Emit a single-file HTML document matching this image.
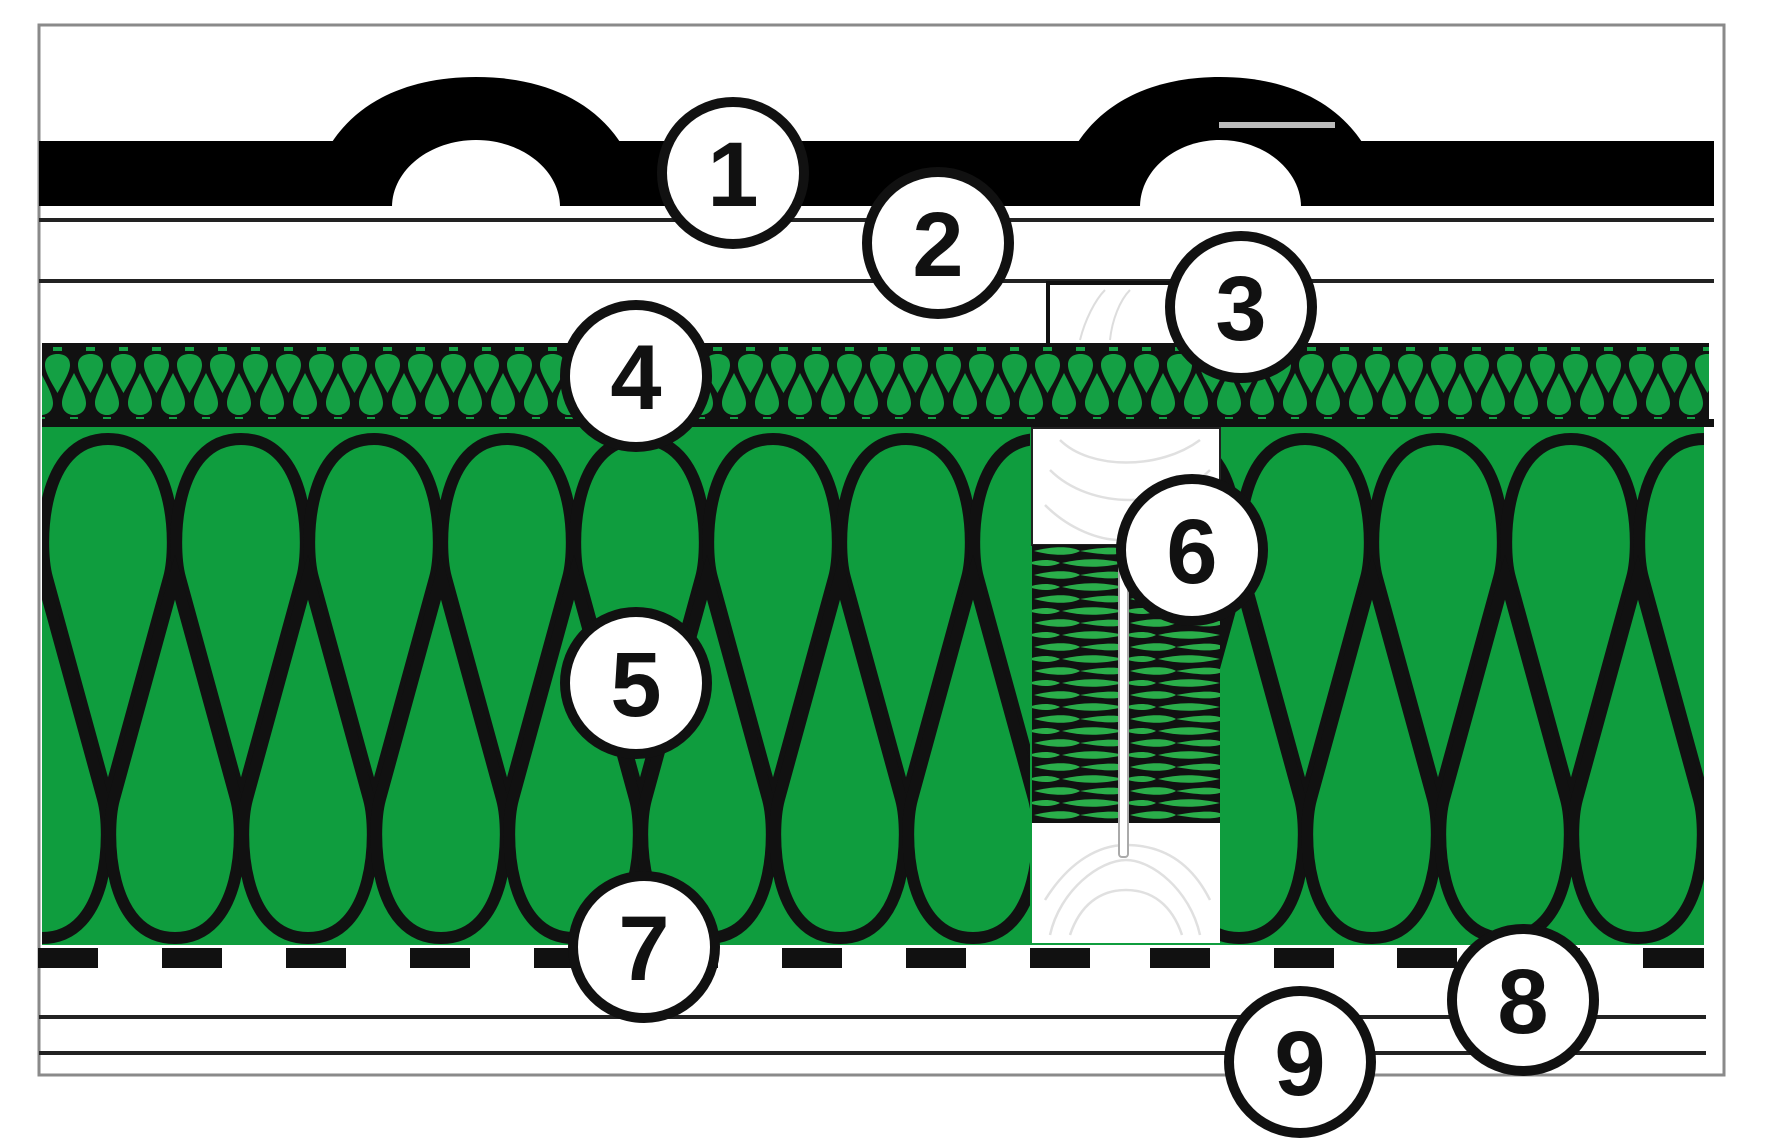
<!DOCTYPE html>
<html><head><meta charset="utf-8"><style>
html,body{margin:0;padding:0;background:#fff;}
svg{display:block;}
text{font-family:"Liberation Sans",Arial,sans-serif;font-weight:bold;}
</style></head><body>
<svg width="1772" height="1147" viewBox="0 0 1772 1147" xmlns="http://www.w3.org/2000/svg">
<defs>
<pattern id="lat" x="8" y="343" width="33" height="82" patternUnits="userSpaceOnUse">
  <rect width="33" height="82" fill="#111"/>
  <path d="M16.5,50 C12,42 4,30 4,22 C4,14 10,11 16.5,11 C23,11 29,14 29,22 C29,30 21,42 16.5,50Z" fill="#14a044"/>
  <path d="M0,30 C5,40 12,52 12,60 C12,68 6,72 0,72 C-6,72 -12,68 -12,60 C-12,52 -5,40 0,30Z" fill="#14a044"/>
  <path d="M33,30 C38,40 45,52 45,60 C45,68 39,72 33,72 C27,72 21,68 21,60 C21,52 28,40 33,30Z" fill="#14a044"/>
  <rect x="12" y="4" width="9" height="4" fill="#14a044"/><rect x="-4" y="74" width="8" height="4" fill="#14a044"/><rect x="29" y="74" width="8" height="4" fill="#14a044"/>
</pattern>
<pattern id="mid" x="1032" y="545" width="96" height="24" patternUnits="userSpaceOnUse">
  <rect width="96" height="24" fill="#111"/>
  <path d="M2,6 C20,1 40,1 48,6 C40,11 20,11 2,6Z" fill="#2aae4a"/>
  <path d="M48,6 C76,1 90,2 96,6 C90,10 76,11 48,6Z" fill="#2aae4a"/>
  <path d="M30,18 C50,13 70,13 92,18 C70,23 50,23 30,18Z" fill="#2aae4a"/>
  <path d="M-4,18 C8,14 20,14 28,18 C20,22 8,22 -4,18Z" fill="#2aae4a"/>
</pattern>
<clipPath id="cl"><rect x="42" y="428" width="988" height="517"/></clipPath>
<clipPath id="cr"><rect x="1220" y="428" width="484" height="517"/></clipPath>
<path id="tl" d="M0,800 L-61,578 C-70,545 -68,439 0,439 C68,439 70,545 61,578 Z"/>
</defs>

<rect x="39" y="25" width="1685" height="1050" fill="#fff" stroke="#8a8a8a" stroke-width="3"/>

<!-- tile band -->
<rect x="39" y="141" width="1675" height="65" fill="#000"/>
<path d="M332,142 C360,100 410,77 476,77 C542,77 592,100 620,142 Z" fill="#000"/>
<path d="M1078,142 C1106,100 1156,77 1220,77 C1284,77 1334,100 1362,142 Z" fill="#000"/>
<path d="M392,207 C392,170 430,140 476,140 C522,140 560,170 560,207 Z" fill="#fff"/>
<path d="M1140,207 C1140,170 1176,140 1220,140 C1264,140 1301,170 1301,207 Z" fill="#fff"/>
<rect x="1219" y="122" width="116" height="6" fill="#bbb"/>

<rect x="39" y="218" width="1675" height="4" fill="#222"/>
<rect x="39" y="279" width="1675" height="4" fill="#222"/>

<!-- batten -->
<rect x="1048" y="283" width="130" height="62" fill="#fff" stroke="#111" stroke-width="4"/>
<g fill="none" stroke="#ddd" stroke-width="2"><path d="M1080,340 C1085,320 1095,300 1105,290"/><path d="M1110,340 C1112,320 1120,300 1130,290"/></g>

<!-- lattice layer -->
<rect x="42" y="343" width="1667" height="82" fill="url(#lat)"/>
<rect x="42" y="419" width="1672" height="8" fill="#111"/>

<!-- main insulation -->
<rect x="42" y="427" width="1662" height="518" fill="#0f9d3e"/>
<g clip-path="url(#cl)" fill="none" stroke="#111" stroke-width="12">
  <use href="#tl" x="108"/><use href="#tl" x="241"/><use href="#tl" x="374"/><use href="#tl" x="507"/><use href="#tl" x="640"/><use href="#tl" x="773"/><use href="#tl" x="906"/><use href="#tl" x="1039"/>
  <g transform="translate(0,1377) scale(1,-1)">
  <use href="#tl" x="42"/><use href="#tl" x="175"/><use href="#tl" x="308"/><use href="#tl" x="441"/><use href="#tl" x="574"/><use href="#tl" x="707"/><use href="#tl" x="840"/><use href="#tl" x="973"/>
  </g>
</g>
<g clip-path="url(#cr)" fill="none" stroke="#111" stroke-width="12">
  <use href="#tl" x="1172"/><use href="#tl" x="1305"/><use href="#tl" x="1438"/><use href="#tl" x="1571"/><use href="#tl" x="1704"/>
  <g transform="translate(0,1377) scale(1,-1)">
  <use href="#tl" x="1239"/><use href="#tl" x="1372"/><use href="#tl" x="1505"/><use href="#tl" x="1638"/>
  </g>
</g>

<!-- rafter -->
<rect x="1032" y="428" width="188" height="117" fill="#fff" stroke="#222" stroke-width="2"/>
<rect x="1032" y="545" width="188" height="278" fill="url(#mid)"/>
<rect x="1032" y="823" width="188" height="120" fill="#fff"/>
<g fill="none" stroke="#e0e0e0" stroke-width="2.5">
  <path d="M1060,440 C1090,470 1160,470 1200,440"/><path d="M1050,470 C1090,510 1170,510 1210,470"/><path d="M1045,505 C1070,530 1100,540 1120,540"/>
  <path d="M1050,935 C1060,890 1100,860 1126,860 C1152,860 1190,890 1200,935"/><path d="M1070,935 C1080,905 1100,890 1126,890 C1152,890 1172,905 1182,935"/><path d="M1045,900 C1070,860 1100,845 1126,845 C1160,845 1190,860 1210,900"/>
</g>
<rect x="1119" y="545" width="9" height="312" rx="3" fill="#fff" stroke="#aaa" stroke-width="2"/>

<!-- dashes -->
<g fill="#111">
<rect x="38" y="948" width="60" height="20"/><rect x="162" y="948" width="60" height="20"/><rect x="286" y="948" width="60" height="20"/><rect x="410" y="948" width="60" height="20"/><rect x="534" y="948" width="60" height="20"/><rect x="658" y="948" width="60" height="20"/><rect x="782" y="948" width="60" height="20"/><rect x="906" y="948" width="60" height="20"/><rect x="1030" y="948" width="60" height="20"/><rect x="1150" y="948" width="60" height="20"/><rect x="1274" y="948" width="60" height="20"/><rect x="1397" y="948" width="60" height="20"/><rect x="1520" y="948" width="60" height="20"/><rect x="1643" y="948" width="61" height="20"/>
</g>
<rect x="39" y="1015" width="1667" height="4" fill="#222"/>
<rect x="39" y="1051" width="1667" height="4" fill="#222"/>

<!-- labels -->
<g fill="#fff" stroke="#111" stroke-width="10">
<circle cx="733" cy="173" r="71"/><circle cx="938" cy="243" r="71"/><circle cx="1241" cy="307" r="71"/>
<circle cx="636" cy="376" r="71"/><circle cx="636" cy="683" r="71"/><circle cx="1192" cy="550" r="71"/>
<circle cx="644" cy="947" r="71"/><circle cx="1523" cy="1000" r="71"/><circle cx="1300" cy="1062" r="71"/>
</g>
<g fill="#111" font-size="92" text-anchor="middle">
<text x="733" y="206">1</text><text x="938" y="276">2</text><text x="1241" y="340">3</text>
<text x="636" y="409">4</text><text x="636" y="716">5</text><text x="1192" y="583">6</text>
<text x="644" y="980">7</text><text x="1523" y="1033">8</text><text x="1300" y="1095">9</text>
</g>
</svg>
</body></html>
